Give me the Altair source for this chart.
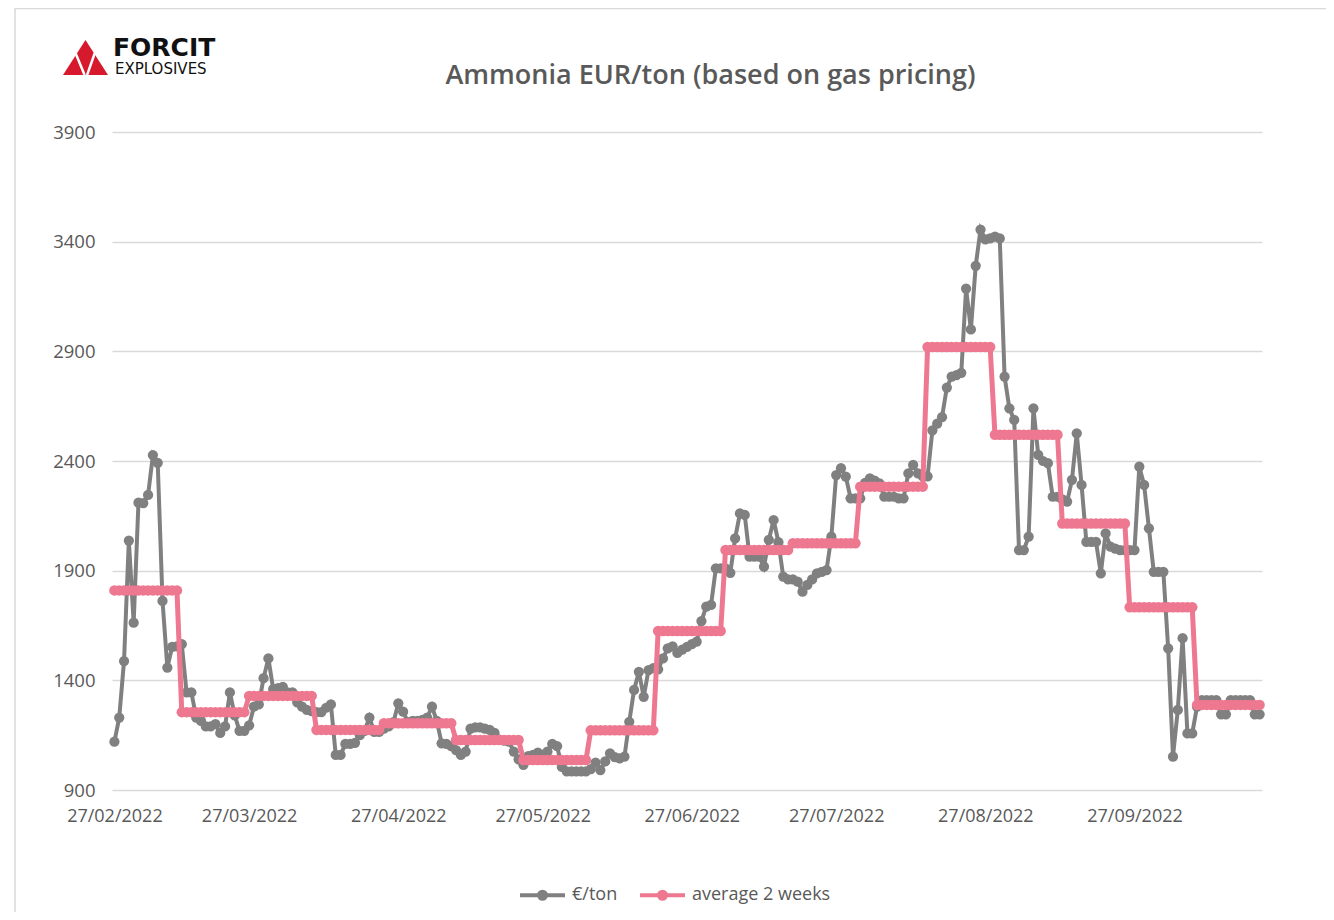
import altair as alt
import pandas as pd

# ---------------- data ----------------
start_date = "2022-02-27"

price_eur_ton = [
    1120, 1230, 1488, 2037, 1663, 2210, 2208, 2245, 2427, 2392, 1762, 1458, 1553, 1555,
    1565, 1345, 1345, 1230, 1215, 1190, 1190, 1200, 1160, 1190, 1345, 1240, 1170, 1170,
    1195, 1280, 1290, 1410, 1500, 1360, 1365, 1370, 1345, 1345, 1300, 1280, 1265, 1260,
    1255, 1255, 1275, 1290, 1060, 1060, 1110, 1110, 1115, 1150, 1170, 1230, 1165, 1165,
    1180, 1190, 1210, 1295, 1257, 1210, 1215, 1215, 1220, 1230, 1280, 1215, 1113, 1110, 1100,
    1082, 1060, 1075, 1180, 1185, 1185, 1180, 1174, 1160, 1130, 1125, 1120, 1075, 1040,
    1015, 1055, 1060, 1070, 1060, 1075, 1110, 1100, 1005, 985, 985, 985, 985, 985,
    995, 1025, 991, 1030, 1067, 1050, 1044, 1052, 1211, 1356, 1439, 1325, 1447, 1456,
    1450, 1500, 1546, 1555, 1525, 1540, 1553, 1565, 1576, 1670, 1736, 1744, 1911, 1911,
    1911, 1890, 2047, 2161, 2154, 1964, 1964, 1964, 1918, 2040, 2131, 2030, 1873, 1860,
    1860, 1850, 1804, 1835, 1860, 1888, 1895, 1903, 2055, 2336, 2367, 2329, 2230, 2230,
    2230, 2300, 2321, 2310, 2298, 2237, 2237, 2237, 2230, 2230, 2344, 2382, 2344, 2330,
    2330, 2540, 2570, 2600, 2735, 2785, 2792, 2802, 3186, 3000, 3290, 3455, 3410, 3415,
    3423, 3415, 2785, 2640, 2587, 1994, 1994, 2055, 2640, 2428, 2400, 2390, 2237, 2237,
    2225, 2215, 2314, 2526, 2291, 2031, 2031, 2031, 1888, 2070, 2010, 2001, 1994, 1994,
    1994, 1994, 2374, 2291, 2093, 1895, 1895, 1895, 1546, 1052, 1265, 1592, 1158, 1158,
    1280, 1310, 1310, 1310, 1310, 1245, 1245, 1310, 1310, 1310, 1310, 1310, 1245, 1245,
]

# two-week averages: level and number of days each level covers
avg_levels = [1810, 1255, 1329, 1174, 1204, 1128, 1037, 1172, 1625,
              1994, 2025, 2283, 2920, 2520, 2115, 1733, 1288]
avg_days = [14, 14, 14, 14, 15, 14, 14, 14, 14, 14, 14, 14, 14, 14, 14, 14, 14]

y_ticks = [900, 1400, 1900, 2400, 2900, 3400, 3900]
x_tick_dates = ["2022-02-27", "2022-03-27", "2022-04-27", "2022-05-27",
                "2022-06-27", "2022-07-27", "2022-08-27", "2022-09-27"]

series_names = ["€/ton", "average 2 weeks"]
series_colors = ["#808080", "#ED7890"]

title_text = "Ammonia EUR/ton (based on gas pricing)"
logo_name = "FORCIT"
logo_sub = "EXPLOSIVES"

# ---------------- build tables ----------------
n = len(price_eur_ton)
t0 = pd.Timestamp(start_date, tz="UTC")
stamps = [t0 + pd.Timedelta(days=i, hours=12) for i in range(n)]

avg_series = []
for lvl, k in zip(avg_levels, avg_days):
    avg_series += [lvl] * k
assert len(avg_series) == n


def iso(t):
    return t.strftime("%Y-%m-%dT%H:%M:%SZ")


rows = []
for t, v in zip(stamps, price_eur_ton):
    rows.append({"date": iso(t), "value": v, "series": series_names[0]})
for t, v in zip(stamps, avg_series):
    rows.append({"date": iso(t), "value": v, "series": series_names[1]})
df = pd.DataFrame(rows)


def ms(t):
    return int(t.timestamp() * 1000)


x_domain = [ms(t0), ms(t0 + pd.Timedelta(days=n))]
x_values = [ms(pd.Timestamp(d, tz="UTC") + pd.Timedelta(hours=12)) for d in x_tick_dates]

PLOT_W, PLOT_H = 1150, 658
TXT = "#595959"
FONT = "Open Sans"

legend_symbol = "M-1,0L3.5,0M0.9,0A0.35,0.35,0,1,0,1.6,0A0.35,0.35,0,1,0,0.9,0Z"

x_enc = alt.X(
    "date:T",
    scale=alt.Scale(type="utc", domain=x_domain),
    axis=alt.Axis(values=x_values, labelExpr="utcFormat(datum.value, '%d/%m/%Y')", grid=False,
                  domain=False, ticks=False, labelPadding=17, labelFontSize=18,
                  labelColor=TXT, labelFont=FONT, labelOverlap=False, labelFlush=False),
    title=None,
)
y_enc = alt.Y(
    "value:Q",
    scale=alt.Scale(domain=[900, 3900], nice=False, zero=False),
    axis=alt.Axis(values=y_ticks, grid=True, gridColor="#D9D9D9", gridWidth=1.3,
                  domain=False, ticks=False, labelPadding=17, labelFontSize=18.5,
                  labelColor=TXT, labelFont=FONT, format="d"),
    title=None,
)
color_enc = alt.Color(
    "series:N",
    scale=alt.Scale(domain=series_names, range=series_colors),
    legend=alt.Legend(title=None, orient="none", legendX=406, legendY=751,
                      direction="horizontal", symbolType=legend_symbol, symbolSize=400,
                      symbolStrokeWidth=4, labelFontSize=18, labelColor=TXT, labelFont=FONT,
                      labelOffset=30, columnPadding=14, symbolOpacity=1),
)

base = alt.Chart(df).encode(x=x_enc, y=y_enc, color=color_enc)

gray_line = base.transform_filter(alt.datum.series == series_names[0]).mark_line(strokeWidth=4)
gray_pts = base.transform_filter(alt.datum.series == series_names[0]).mark_circle(size=105, opacity=1)
pink_line = base.transform_filter(alt.datum.series == series_names[1]).mark_line(strokeWidth=5)
pink_pts = base.transform_filter(alt.datum.series == series_names[1]).mark_circle(size=110, opacity=1)

# ---------------- logo, title, frame ----------------
deco_df = pd.DataFrame({"name": [logo_name], "sub": [logo_sub], "title": [title_text]})
deco = alt.Chart(deco_df)
tri = deco.mark_point(shape="M0,-0.78L1,0.78L-1,0.78Z", filled=True, color="#D7192D",
                      size=2025, opacity=1).encode(x=alt.value(-26.5), y=alt.value(-74.5))
tri_lines = deco.mark_point(shape="M-0.44,-0.19L-0.04,0.78M0.41,-0.19L0.07,0.78",
                            filled=False, color="white", strokeWidth=2.5, size=2025,
                            opacity=1).encode(x=alt.value(-26.5), y=alt.value(-74.5))
name_txt = deco.mark_text(font="DejaVu Sans", fontWeight="bold", fontSize=25, align="left",
                          baseline="alphabetic", color="#111111").encode(
    x=alt.value(1), y=alt.value(-76), text="name:N")
sub_txt = deco.mark_text(font="DejaVu Sans", fontSize=15, align="left",
                         baseline="alphabetic", color="#111111").encode(
    x=alt.value(3), y=alt.value(-58), text="sub:N")
title_txt = deco.mark_text(font=FONT, fontWeight=600, fontSize=27, align="center",
                           baseline="middle", color=TXT).encode(
    x=alt.value(598.5), y=alt.value(-56), text="title:N")
frame_left = deco.mark_rule(color="#D9D9D9", strokeWidth=1.5).encode(
    x=alt.value(-97), y=alt.value(-124), y2=alt.value(790))
frame_top = deco.mark_rule(color="#D9D9D9", strokeWidth=1.5).encode(
    x=alt.value(-97), x2=alt.value(1214), y=alt.value(-123.5))

chart = alt.layer(
    gray_line, gray_pts, pink_line, pink_pts,
    frame_left, frame_top, tri, tri_lines, name_txt, sub_txt, title_txt,
).properties(
    width=PLOT_W,
    height=PLOT_H,
    padding={"left": 104, "top": 124, "right": 64, "bottom": 122},
    autosize=alt.AutoSizeParams(type="none"),
).configure(
    background="white",
    view=alt.ViewConfig(stroke="transparent", strokeWidth=0),
)

chart.save("out.html", embed_options={"renderer": "svg", "actions": False})
